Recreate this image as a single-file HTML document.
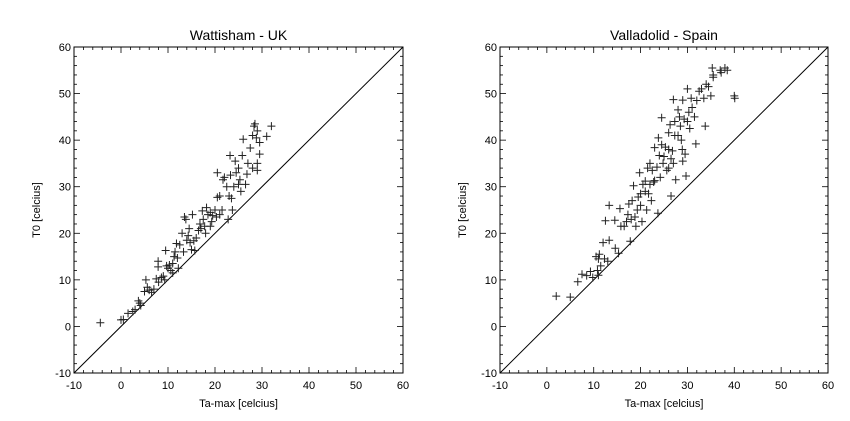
<!DOCTYPE html>
<html><head><meta charset="utf-8"><style>
body{margin:0;background:#fff;}
svg{display:block;font-family:"Liberation Sans",sans-serif;}
</style></head><body>
<svg id="chart" width="850" height="421" viewBox="0 0 850 421"></svg>
<script>
const axisTicks=[-10,0,10,20,30,40,50,60];
const panelTitles=["Wattisham - UK","Valladolid - Spain"];
const ukTa=[-4.4,0,0.5,1.5,2.5,3,3.7,4,4.2,5,5.3,5.6,6,6.5,7,7.5,7.9,7.9,8,8.6,9,9.3,9.5,9.7,10,10.3,10.6,11,11,11.3,11.5,11.8,12,12.2,12.5,13,13.3,13.5,13.8,14,14.3,14.5,14.7,15,15.2,15.5,15.7,16,16.5,16.8,17,17.3,17.5,17.8,18,18.2,18.5,19,19,19.3,19.5,20,20.3,20.5,20.5,21,21,21.5,21.7,22,22.5,22.8,23,23.2,23.3,23.5,23.7,24,24.3,24.5,25,25,25.3,25.5,25.8,26,26.5,26.8,27,27.5,28,28,28.3,28.5,28.8,29,29,29,29.5,29.5,31,32];
const ukT0=[0.8,1.4,1.5,2.8,3.2,3.6,5.5,5,4.5,7.5,10,8.4,7.8,7.3,8,10.2,14,12.8,9.5,10.5,10.8,10,16.3,13,12.5,13.2,12,11.5,13.5,15,16,17.8,14.7,12.5,17.5,20,16,23.5,23,18.5,19.5,21,18,16.5,24,18.4,16.3,19,20.6,22,21,24.8,23,21.5,20,25.5,24,24.5,21.5,22.5,23.8,25,23.5,27.7,33,28,24,25,31.5,32,30,23,28,36.7,32.5,27.5,25,30,35.5,33,34,30.5,31.5,29,36.7,40.2,30.5,32.7,35,38.3,41,34,43,43.5,40.5,33.5,35,42,37,39.5,40.8,43];
const esTa=[2,5,6.6,7.5,8.5,9.3,9.8,10.5,10.8,11,11,11.2,11.5,12,12.3,12.5,13,13.3,13.3,14.5,14.6,15.3,15.6,15.8,16.5,17,17.3,17.5,17.8,18,18.2,18.5,18.8,19,19.3,19.5,19.8,20,20,20.3,20.5,21,21,21.3,21.5,21.7,22,22,22.3,22.5,22.8,23,23,23.5,23.7,23.8,24,24.2,24.5,24.5,24.8,25,25.3,25.6,26,26,26,26.3,26.5,26.5,26.8,27,27,27.3,27.3,27.5,28,28,28.3,28.5,28.7,28.9,29,29,29.3,29.5,29.7,30,30,30.3,30.5,30.8,31,31.5,31.8,32,32.5,33,33.5,33.8,34,34.5,35,35.3,35.5,35.5,37,37.2,38,38.5,40,40.1];
const esT0=[6.5,6.3,9.6,11.2,10.9,11.8,10.5,15,12,11,14.5,15.5,13,18,14.5,22.7,14,18.5,26,22.8,16.8,15.7,25.3,21.5,21.5,22.5,24,26.3,18.3,23,27,30.2,23.5,21.5,25,27.8,33,28.5,26,22.5,30.5,31.2,29,25,34,28.5,35,30.5,27,33.5,31,31.3,38.4,34.2,24.3,40.5,36.7,32,44.8,39,35,36.5,38.5,33.5,38,41.6,34,43.3,28,36,37.7,48.7,35,44,41,31.5,41,46.5,45,43,40,38,35.5,48.6,44.5,37,32.3,51,44,46,42.5,49,47,45,39.2,48.5,50.5,51,49,43,52,51.5,49.5,55.5,53.5,54,55,54.5,55.5,55,49.5,49];
const NS="http://www.w3.org/2000/svg";
const svg=document.getElementById('chart');
function mk(tag,attrs,parent){const e=document.createElementNS(NS,tag);for(const k in attrs)e.setAttribute(k,attrs[k]);parent.appendChild(e);return e;}
const panels=[{x0:74,x1:403,xs:ukTa,ys:ukT0,t:panelTitles[0],n:'uk'},{x0:500,x1:828,xs:esTa,ys:esT0,t:panelTitles[1],n:'spain'}];
const Y0=47,Y1=373,MIN=-10,MAX=60;
panels.forEach(p=>{
  const g=mk('g',{},svg);
  
  
  const sx=v=>p.x0+(v-MIN)/(MAX-MIN)*(p.x1-p.x0);
  const sy=v=>Y1-(v-MIN)/(MAX-MIN)*(Y1-Y0);
  const box=mk('rect',{x:p.x0,y:Y0,width:p.x1-p.x0,height:Y1-Y0,fill:'none',stroke:'#000','stroke-width':1},g);
  
  
  for(let v=MIN;v<=MAX;v+=2){
    const major=(v%10===0), L=major?6:3;
    mk('line',{x1:sx(v),x2:sx(v),y1:Y1,y2:Y1-L,stroke:'#000','stroke-width':0.8},g);
    mk('line',{x1:sx(v),x2:sx(v),y1:Y0,y2:Y0+L,stroke:'#000','stroke-width':0.8},g);
    mk('line',{y1:sy(v),y2:sy(v),x1:p.x0,x2:p.x0+L,stroke:'#000','stroke-width':0.8},g);
    mk('line',{y1:sy(v),y2:sy(v),x1:p.x1,x2:p.x1-L,stroke:'#000','stroke-width':0.8},g);
  }
  axisTicks.forEach(v=>{
    const tx=mk('text',{x:sx(v),y:Y1+16,'font-size':11,'text-anchor':'middle'},g);tx.textContent=v;
    
    
    const ty=mk('text',{x:p.x0-3,y:sy(v)+4,'font-size':11,'text-anchor':'end'},g);ty.textContent=v;
    
    
  });
  const diag=mk('line',{x1:sx(MIN),y1:sy(MIN),x2:sx(MAX),y2:sy(MAX),stroke:'#000','stroke-width':1},g);
  
  
  p.xs.forEach((xv,i)=>{
    const cx=sx(xv),cy=sy(p.ys[i]);
    const pt=mk('path',{d:`M${cx-4},${cy}H${cx+4}M${cx},${cy-4}V${cy+4}`,stroke:'#222','stroke-width':1},g);
    
    
  });
  const tt=mk('text',{x:(p.x0+p.x1)/2,y:40,'font-size':14,'text-anchor':'middle'},g);tt.textContent=p.t;
  
  
  const xl=mk('text',{x:(p.x0+p.x1)/2,y:Y1+34,'font-size':11,'text-anchor':'middle'},g);xl.textContent='Ta-max [celcius]';
  
  
  const yl=mk('text',{x:0,y:0,'font-size':11,'text-anchor':'middle',transform:`translate(${p.x0-34},${(Y0+Y1)/2}) rotate(-90)`},g);yl.textContent='T0 [celcius]';
  
  
});
</script>
</body></html>
